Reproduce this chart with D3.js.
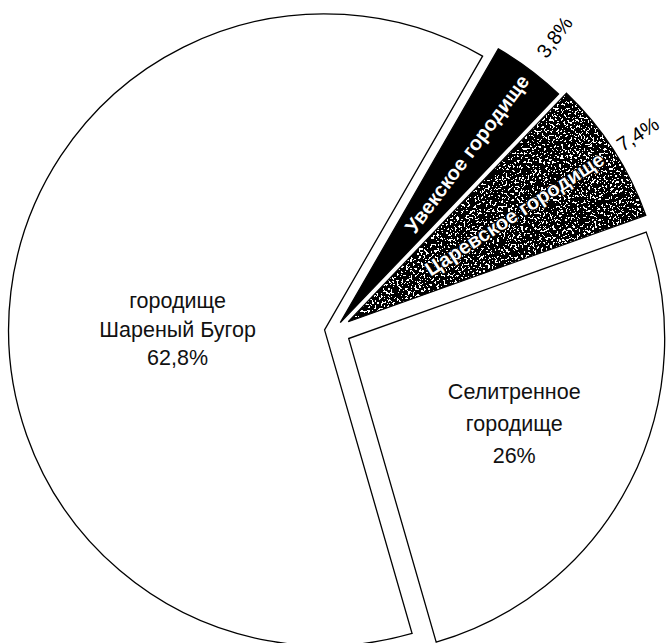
<!DOCTYPE html>
<html><head><meta charset="utf-8">
<script src="https://cdn.jsdelivr.net/npm/d3@7"></script>
<style>html,body{margin:0;padding:0;background:#fff;} svg{display:block}</style>
</head><body>
<svg id="chart" width="668" height="643"></svg>
<script>
// ---- data ----
const categories = ["Увекское городище", "Царевское городище", "Селитренное городище", "городище Шареный Бугор"];
const values = [3.8, 7.4, 26, 62.8];
const valueLabels = ["3,8%", "7,4%", "26%", "62,8%"];
const rotatedNames = ["Увекское городище", "Царевское городище", null, null];
const blockLines = [null, null, ["Селитренное", "городище", "26%"], ["городище", "Шареный Бугор", "62,8%"]];

// ---- style / layout ----
const W = 668, H = 643;
const cx = 334, cy = 331, R = 316;
const startDeg = 30;
const explode = [10.5, 17, 16.5, 9.5];
const fills = ["#000", "#000", "#fff", "#fff"];
const innerR = [211, 198, 186, 147];
const labelAngleShift = [0, 0, 0, -6.6];
const lineGap = [0, 0, 32, 28.5];
const outerR = [357, 345];
const font = "'Liberation Sans', Arial, sans-serif";

const svg = d3.select("#chart");
const defs = svg.append("defs");
const f = defs.append("filter").attr("id", "speckle")
  .attr("filterUnits", "userSpaceOnUse").attr("x", -800).attr("y", -800).attr("width", 1600).attr("height", 1600)
  .attr("color-interpolation-filters", "sRGB");
f.append("feTurbulence").attr("type", "fractalNoise").attr("baseFrequency", 0.45)
  .attr("numOctaves", 3).attr("seed", 7).attr("result", "noise");
f.append("feColorMatrix").attr("in", "noise").attr("type", "matrix")
  .attr("values", "1 0 0 0 0  1 0 0 0 0  1 0 0 0 0  0 0 0 0 1").attr("result", "gray");
const ct = f.append("feComponentTransfer").attr("in", "gray").attr("result", "bw");
const table = "0 0 0 0 0 0 0 0 0 0 0 0 1 1 1 1 1 1 1 1";
["feFuncR", "feFuncG", "feFuncB"].forEach(n => ct.append(n).attr("type", "discrete").attr("tableValues", table));
f.append("feComposite").attr("in", "bw").attr("in2", "SourceGraphic").attr("operator", "in");

const toRad = d => d * Math.PI / 180;
const pie = d3.pie().sort(null).value(d => d)
  .startAngle(toRad(startDeg)).endAngle(toRad(startDeg) + 2 * Math.PI);
const arcs = pie(values);
const arc = d3.arc().innerRadius(0).outerRadius(R);

const polar = (a, r) => [r * Math.sin(a), -r * Math.cos(a)];

const g = svg.append("g").attr("transform", `translate(${cx},${cy})`);

arcs.forEach((d, i) => {
  const mid = (d.startAngle + d.endAngle) / 2;
  const [ox, oy] = polar(mid, explode[i]);
  const sg = g.append("g").attr("transform", `translate(${ox},${oy})`);
  if (i === 1) {
    sg.append("path").attr("d", arc(d)).attr("fill", "#000").attr("filter", "url(#speckle)");
    sg.append("path").attr("d", arc(d)).attr("fill", "none").attr("stroke", "#000").attr("stroke-width", 1.2);
  } else {
    sg.append("path").attr("d", arc(d)).attr("fill", fills[i]).attr("stroke", "#000").attr("stroke-width", 1.3);
  }
  const midDeg = mid * 180 / Math.PI;
  if (rotatedNames[i]) {
    const [lx, ly] = polar(mid, innerR[i]);
    sg.append("text").attr("transform", `translate(${lx},${ly}) rotate(${midDeg - 90})`)
      .attr("text-anchor", "middle").attr("dy", "0.36em")
      .attr("font-family", font).attr("font-size", 20).attr("font-weight", "bold")
      .attr("fill", "#fff").attr("stroke", "#000").attr("stroke-width", i === 1 ? 2.2 : 0)
      .attr("stroke-linejoin", "round")
      .attr("paint-order", "stroke").text(rotatedNames[i]);
    const [px, py] = polar(mid, outerR[i]);
    sg.append("text").attr("transform", `translate(${px},${py}) rotate(${midDeg - 90})`)
      .attr("text-anchor", "middle").attr("dy", "0.36em")
      .attr("font-family", font).attr("font-size", 20)
      .attr("fill", "#000").text(valueLabels[i]);
  }
  if (blockLines[i]) {
    const a = mid + toRad(labelAngleShift[i]);
    const [lx, ly] = polar(a, innerR[i]);
    const t = sg.append("text").attr("text-anchor", "middle")
      .attr("font-family", font).attr("font-size", 21.5).attr("fill", "#111");
    const n = blockLines[i].length;
    blockLines[i].forEach((s, k) => {
      t.append("tspan").attr("x", lx)
        .attr("y", ly + (k - (n - 1) / 2) * lineGap[i])
        .attr("dy", "0.36em").text(s);
    });
  }
});
</script>
</body></html>
